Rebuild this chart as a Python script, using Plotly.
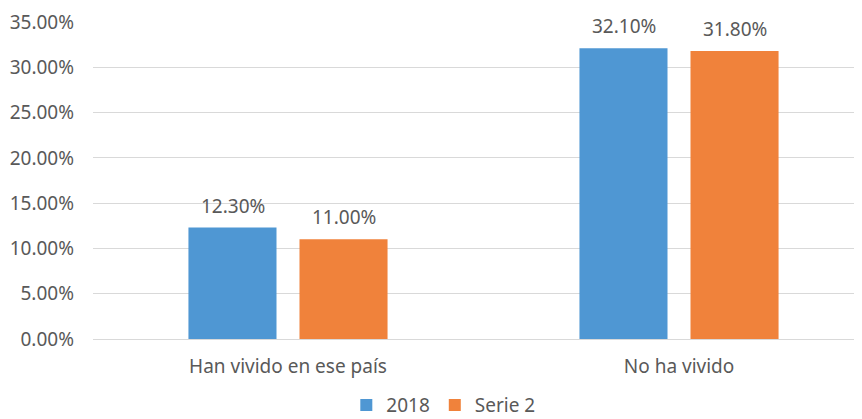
import plotly.graph_objects as go

categories = ["Han vivido en ese país", "No ha vivido"]
serie_2018 = [12.3, 32.1]
serie_2 = [11.0, 31.8]
series_names = ["2018", "Serie 2"]
tick_vals = [0, 5, 10, 15, 20, 25, 30, 35]
tick_text = ["0.00%", "5.00%", "10.00%", "15.00%", "20.00%", "25.00%", "30.00%", "35.00%"]

FONT = "Noto Sans"
GRAY = "#595959"
FS = 19

fig = go.Figure()
series = [(series_names[0], serie_2018, "#4F97D3", -55.5), (series_names[1], serie_2, "#F0823B", 55.5)]
for name, vals, color, shift in series:
    fig.add_trace(go.Bar(
        x=categories, y=vals, name=name, marker=dict(color=color, line=dict(width=0)),
    ))
    for c, v in zip(categories, vals):
        fig.add_annotation(x=c, y=v, text=f"{v:.2f}%", showarrow=False, xanchor="center",
                           yanchor="bottom", xshift=shift, yshift=7,
                           font=dict(family=FONT, size=FS, color=GRAY))

fig.update_layout(
    width=862, height=419,
    margin=dict(l=85, r=8, t=14, b=88, autoexpand=False),
    plot_bgcolor="white", paper_bgcolor="white",
    barmode="group", bargap=0.432, bargroupgap=0.207,
    font=dict(family=FONT, size=FS, color=GRAY),
    showlegend=True,
    legend=dict(orientation="h", xref="container", yref="container", x=0.505, xanchor="center",
                y=0.052, yanchor="middle", font=dict(family=FONT, size=FS, color=GRAY),
                itemwidth=30, traceorder="normal"),
    xaxis=dict(range=[-0.4987, 1.468], showgrid=False, showline=False, ticks="", automargin=False,
               ticklabelstandoff=14, tickfont=dict(family=FONT, size=FS, color=GRAY)),
    yaxis=dict(range=[0, 35], tickvals=tick_vals, ticktext=tick_text, showgrid=True,
               gridcolor="#D9D9D9", gridwidth=1, zeroline=True, zerolinecolor="#D9D9D9",
               zerolinewidth=1, showline=False, ticks="", ticklabelstandoff=18, automargin=False,
               tickfont=dict(family=FONT, size=FS, color=GRAY)),
)

fig.write_html("out.html")
